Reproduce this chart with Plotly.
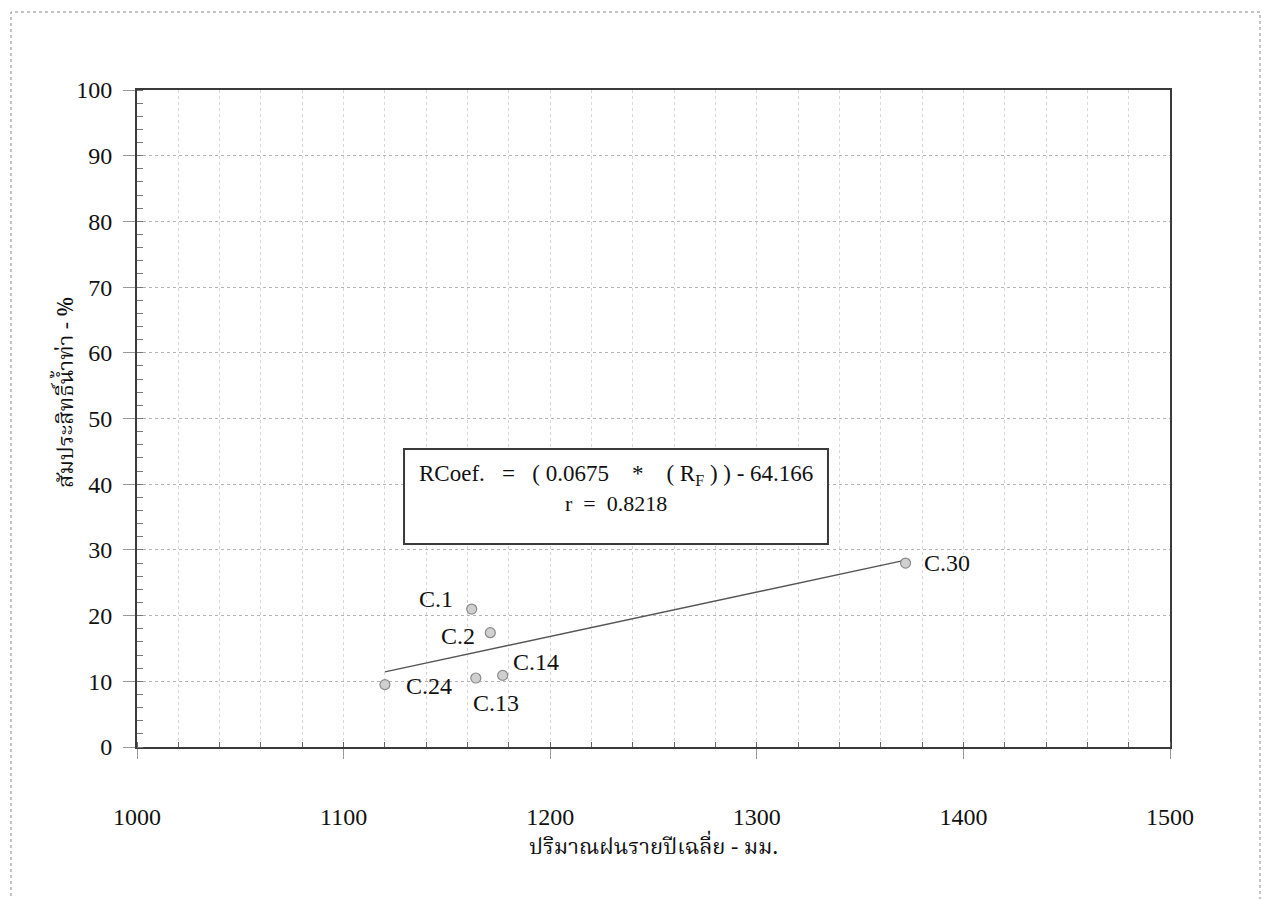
import plotly.graph_objects as go

# ---- data ----
stations = ["C.1", "C.2", "C.13", "C.14", "C.24", "C.30"]
rainfall_mm = [1162, 1171, 1164, 1177, 1120, 1372]
runoff_coef_pct = [21.0, 17.4, 10.5, 10.9, 9.5, 28.0]
slope = 0.0675
intercept = -64.166
r_value = 0.8218
x_ticks = [1000, 1100, 1200, 1300, 1400, 1500]
y_ticks = [0, 10, 20, 30, 40, 50, 60, 70, 80, 90, 100]
# label offsets (pixels) for station names
label_dx = [-36, -32, 20, 33, 44, 41]
label_dy = [10, -3, -25, 13, -1, 0]

FONT = "Liberation Serif"
THAI = "Noto Serif Thai, Noto Sans Thai, Liberation Serif, serif"
DARK = "#3a3a3a"
SP = "&nbsp;"

fig = go.Figure()

# regression line from fitted equation across data range
x0, x1 = min(rainfall_mm), max(rainfall_mm)
fig.add_trace(go.Scatter(
    x=[x0, x1], y=[slope * x0 + intercept, slope * x1 + intercept],
    mode="lines", line=dict(color="#555555", width=1.5), hoverinfo="skip",
    showlegend=False))

fig.add_trace(go.Scatter(
    x=rainfall_mm, y=runoff_coef_pct, mode="markers",
    marker=dict(symbol="circle", size=10, color="#cfcfcf",
                line=dict(color="#8a8a8a", width=1.2)),
    showlegend=False))

for name, xv, yv, dx, dy in zip(stations, rainfall_mm, runoff_coef_pct, label_dx, label_dy):
    fig.add_annotation(x=xv, y=yv, text=name, showarrow=False,
                       xshift=dx, yshift=dy,
                       font=dict(family=FONT, size=24, color="#111111"))

# equation box
fig.add_shape(type="rect", xref="paper", yref="paper",
              x0=0.2585, x1=0.6689, y0=0.3090, y1=0.4536,
              line=dict(color=DARK, width=2), fillcolor="white", layer="above")
eq_text = (f"RCoef.{SP*3}={SP*3}({SP}{slope}{SP*4}*{SP*4}({SP}R<sub>F</sub>{SP}){SP}){SP}-{SP}{abs(intercept)}")
fig.add_annotation(xref="paper", yref="paper", x=0.4637, y=0.414,
                   text=eq_text,
                   showarrow=False, font=dict(family=FONT, size=23, color="#111111"))
fig.add_annotation(xref="paper", yref="paper", x=0.4637, y=0.3699,
                   text=f"r{SP*2}={SP*2}{r_value}",
                   showarrow=False, font=dict(family=FONT, size=22, color="#111111"))

# y-axis title
fig.add_annotation(xref="paper", yref="paper", x=-0.087, y=0.539,
                   text="สัมประสิทธิ์น้ำท่า - %", textangle=-90, showarrow=False,
                   font=dict(family=THAI, size=22, color="#111111"))

# outer dotted frame
fig.add_shape(type="rect", xref="paper", yref="paper",
              x0=-0.1220, x1=1.0871, y0=-0.2405, y1=1.1187,
              line=dict(color="#888888", width=1, dash="dot"))

fig.update_xaxes(
    range=[1000, 1500], tickvals=x_ticks, ticktext=[str(v) for v in x_ticks],
    showline=True, linecolor=DARK, linewidth=2, mirror=True,
    ticks="outside", ticklen=10, tickcolor="#999999", tickwidth=1,
    ticklabelstandoff=37,
    tickfont=dict(family=FONT, size=24, color="#111111"),
    showgrid=False, zeroline=False,
    minor=dict(dtick=20, ticks="inside", ticklen=5, tickcolor="#666666",
               showgrid=True, gridcolor="#d6d6d6", griddash="dot", gridwidth=1),
    title=dict(text="ปริมาณฝนรายปีเฉลี่ย - มม.", standoff=4,
               font=dict(family=THAI, size=22, color="#111111")),
)
fig.update_yaxes(
    range=[0, 100], tickvals=y_ticks, ticktext=[str(v) for v in y_ticks],
    showline=True, linecolor=DARK, linewidth=2, mirror=True,
    ticks="outside", ticklen=12, tickcolor="#999999", tickwidth=1,
    ticklabelstandoff=6,
    tickfont=dict(family=FONT, size=24, color="#111111"),
    showgrid=True, gridcolor="#b4b4b4", griddash="dot", gridwidth=1,
    zeroline=False,
    minor=dict(dtick=2, ticks="inside", ticklen=6, tickcolor="#777777"),
)

fig.update_layout(
    width=1270, height=899, autosize=False,
    margin=dict(l=137, r=100, t=90, b=152),
    paper_bgcolor="white", plot_bgcolor="white",
    font=dict(family=FONT, color="#111111"),
    showlegend=False,
)

fig.write_html("out.html")
